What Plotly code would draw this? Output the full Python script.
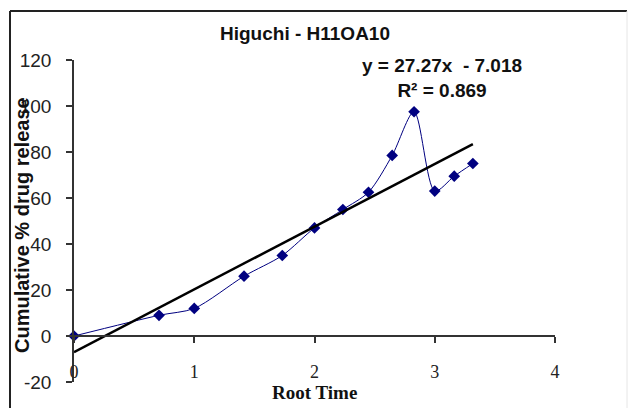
import plotly.graph_objects as go

# Higuchi model: cumulative release against square root of time
root_time = [0, 0.707, 1.0, 1.414, 1.732, 2.0, 2.236, 2.449, 2.646, 2.828, 3.0, 3.162, 3.317]
release = [0, 9, 12, 26, 35, 47, 55, 62.5, 78.5, 97.5, 63, 69.5, 75]

# linear trendline coefficients
slope = 27.27
intercept = -7.018
r_squared = 0.869

x_ticks = [0, 1, 2, 3, 4]
y_ticks = [-20, 0, 20, 40, 60, 80, 100, 120]
y_tick_text = [str(v) for v in y_ticks]

W, H = 630, 408
L, R, T, B = 74, 75, 60, 26
pw, ph = W - L - R, H - T - B

def px(xp):
    return (xp - L) / pw

def py(yp):
    return (H - B - yp) / ph

navy = "#000080"

fig = go.Figure()
fig.add_trace(go.Scatter(
    x=root_time, y=release, mode="lines+markers",
    line=dict(color=navy, width=1, shape="spline", smoothing=0.8),
    marker=dict(symbol="diamond", size=9, color=navy),
    showlegend=False, cliponaxis=False,
))

x_end = [root_time[0], root_time[-1]]
fig.add_trace(go.Scatter(
    x=x_end, y=[slope * v + intercept for v in x_end], mode="lines",
    line=dict(color="black", width=2.5), showlegend=False,
))

fig.update_layout(
    width=W, height=H,
    margin=dict(l=L, r=R, t=T, b=B),
    paper_bgcolor="white", plot_bgcolor="white",
    title=dict(text="<b>Higuchi - H11OA10</b>", x=305 / W, xref="container",
               xanchor="center", y=1 - 33 / H, yref="container", yanchor="middle",
               font=dict(family="Liberation Sans, Arial", size=19, color="#111")),
    xaxis=dict(range=[0, 4], tickvals=x_ticks, anchor="free", position=20 / 140,
               showline=True, linecolor="#333", linewidth=1.5,
               ticks="outside", ticklen=6, tickcolor="#333", tickwidth=1.5,
               showgrid=False, zeroline=False, ticklabelstandoff=14,
               tickfont=dict(family="Liberation Serif, Times New Roman", size=18, color="#222")),
    yaxis=dict(range=[-20, 120], tickvals=y_ticks, ticktext=y_tick_text,
               showline=True, linecolor="#333", linewidth=1.5,
               ticks="outside", ticklen=6, tickcolor="#333", tickwidth=1.5,
               showgrid=False, zeroline=False, ticklabelstandoff=11,
               tickfont=dict(family="Liberation Sans Narrow, Arial Narrow, Liberation Sans", size=19, color="#222")),
)

# equation and R² of the trendline
fig.add_annotation(
    text=f"<b>y = {slope:.2f}x  - {abs(intercept):.3f}<br>R² = {r_squared:.3f}</b>",
    xref="paper", yref="paper", x=px(442), y=py(78), xanchor="center", yanchor="middle",
    showarrow=False, align="center",
    font=dict(family="Liberation Sans, Arial", size=19, color="#111"),
)

# axis titles
fig.add_annotation(
    text="<b>Cumulative % drug release</b>", textangle=-90,
    xref="paper", yref="paper", x=px(22), y=py(225), xanchor="center", yanchor="middle",
    showarrow=False, font=dict(family="Liberation Sans, Arial", size=20, color="#111"),
)
fig.add_annotation(
    text="<b>Root Time</b>",
    xref="x", yref="paper", x=2, y=py(392), xanchor="center", yanchor="middle",
    showarrow=False, font=dict(family="Liberation Serif, Times New Roman", size=19, color="#111"),
)

# chart area border
fig.add_shape(type="line", xref="paper", yref="paper",
              x0=px(10), x1=px(627), y0=py(11), y1=py(11), line=dict(color="#222", width=2))
fig.add_shape(type="line", xref="paper", yref="paper",
              x0=px(10), x1=px(10), y0=py(11), y1=py(412), line=dict(color="#222", width=2))
fig.add_shape(type="line", xref="paper", yref="paper",
              x0=px(627), x1=px(627), y0=py(11), y1=py(412), line=dict(color="#e6e6e6", width=1))

fig.write_html("out.html")
